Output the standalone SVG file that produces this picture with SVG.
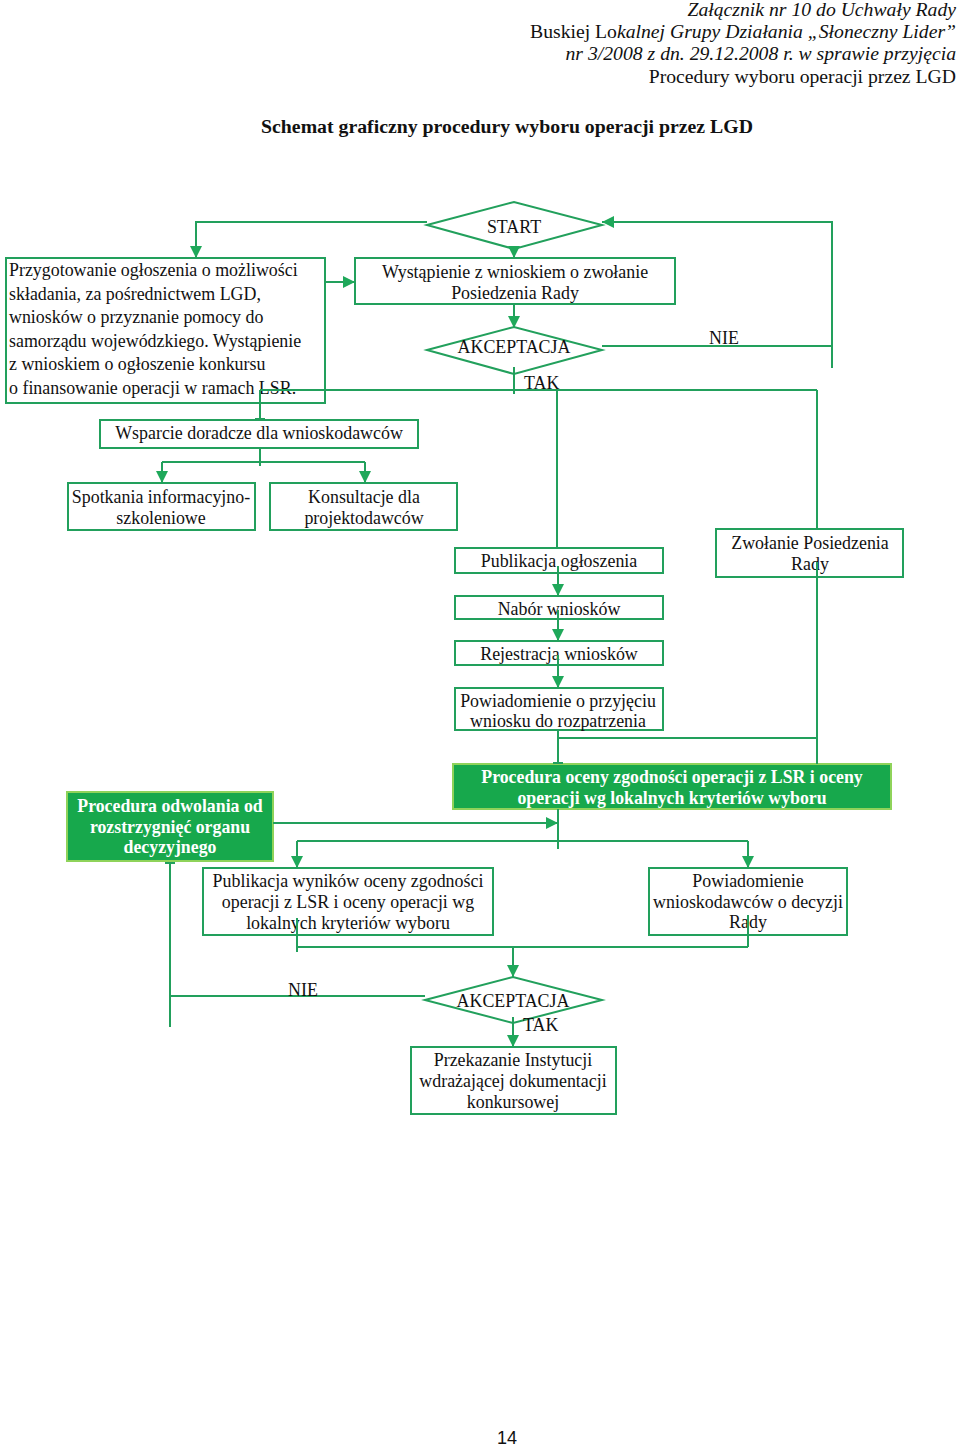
<svg xmlns="http://www.w3.org/2000/svg" width="960" height="1447" viewBox="0 0 960 1447">
<defs>
<style>
.t{font-family:"Liberation Serif","Times New Roman",serif;font-size:17.9px;fill:#111}
.c{text-anchor:middle}
.h{font-family:"Liberation Serif","Times New Roman",serif;font-size:19.7px;fill:#111;text-anchor:end}
.i{font-style:italic}
.b{fill:none;stroke:#22a05c;stroke-width:2}
.g{fill:#17a84c;stroke:#8fd35a;stroke-width:2}
.w{font-family:"Liberation Serif","Times New Roman",serif;font-size:17.8px;font-weight:bold;fill:#fff;text-anchor:middle}
.ln{fill:none;stroke:#22a05c;stroke-width:2}
</style>
<marker id="ah" markerUnits="userSpaceOnUse" markerWidth="12" markerHeight="12" viewBox="0 0 12 12" refX="12" refY="6" orient="auto">
<path d="M0,0 L12,6 L0,12 z" fill="#1fa85a"/>
</marker>
</defs>
<rect width="960" height="1447" fill="#fff"/>

<g id="header">
<text class="h i" x="956" y="16">Załącznik nr 10 do Uchwały Rady</text>
<text class="h" x="956" y="38">Buskiej Lo<tspan class="i">kalnej Grupy Działania „Słoneczny Lider”</tspan></text>
<text class="h i" x="956" y="60">nr 3/2008 z dn. 29.12.2008 r. w sprawie przyjęcia</text>
<text class="h" x="956" y="83">Procedury wyboru operacji przez LGD</text>
<text x="507" y="133" style="font-family:'Liberation Serif','Times New Roman',serif;font-size:19.8px;font-weight:bold;text-anchor:middle;fill:#111">Schemat graficzny procedury wyboru operacji przez LGD</text>
</g>

<g id="start">
<polygon class="b" points="427,225 514,202 602,225 514,249"/>
<text class="t c" x="514" y="233">START</text>
</g>

<g id="przygotowanie">
<rect class="b" x="6" y="258" width="319" height="145"/>
<text class="t" x="9" y="276">Przygotowanie ogłoszenia o możliwości</text>
<text class="t" x="9" y="300">składania, za pośrednictwem LGD,</text>
<text class="t" x="9" y="323">wniosków o przyznanie pomocy do</text>
<text class="t" x="9" y="347">samorządu wojewódzkiego. Wystąpienie</text>
<text class="t" x="9" y="370">z wnioskiem o ogłoszenie konkursu</text>
<text class="t" x="9" y="394">o finansowanie operacji w ramach LSR.</text>
</g>

<g id="wystapienie">
<rect class="b" x="355" y="258" width="320" height="46"/>
<text class="t c" x="515" y="278">Wystąpienie z wnioskiem o zwołanie</text>
<text class="t c" x="515" y="299">Posiedzenia Rady</text>
</g>

<g id="akceptacja1">
<polygon class="b" points="427,350 514,327 602,350 514,374"/>
<text class="t c" x="514" y="353">AKCEPTACJA</text>
</g>

<g id="wsparcie">
<rect class="b" x="100" y="420" width="318" height="28"/>
<text class="t c" x="259" y="439">Wsparcie doradcze dla wnioskodawców</text>
</g>

<g id="spotkania">
<rect class="b" x="68" y="483" width="187" height="47"/>
<text class="t c" x="161" y="503">Spotkania informacyjno-</text>
<text class="t c" x="161" y="524">szkoleniowe</text>
</g>

<g id="konsultacje">
<rect class="b" x="270" y="483" width="187" height="47"/>
<text class="t c" x="364" y="503">Konsultacje dla</text>
<text class="t c" x="364" y="524">projektodawców</text>
</g>

<g id="publikacja">
<rect class="b" x="455" y="548" width="208" height="25"/>
<text class="t c" x="559" y="567">Publikacja ogłoszenia</text>
</g>

<g id="zwolanie">
<rect class="b" x="716" y="529" width="187" height="48"/>
<text class="t c" x="810" y="549">Zwołanie Posiedzenia</text>
<text class="t c" x="810" y="570">Rady</text>
</g>

<g id="nabor">
<rect class="b" x="455" y="596" width="208" height="23"/>
<text class="t c" x="559" y="615">Nabór wniosków</text>
</g>

<g id="rejestracja">
<rect class="b" x="455" y="641" width="208" height="24"/>
<text class="t c" x="559" y="660">Rejestracja wniosków</text>
</g>

<g id="powiadomienie1">
<rect class="b" x="455" y="688" width="208" height="42"/>
<text class="t c" x="558" y="707">Powiadomienie o przyjęciu</text>
<text class="t c" x="558" y="727">wniosku do rozpatrzenia</text>
</g>

<g id="procedura-oceny">
<rect class="g" x="453" y="764" width="438" height="45"/>
<text class="w" x="672" y="783">Procedura oceny zgodności operacji z LSR i oceny</text>
<text class="w" x="672" y="804">operacji wg lokalnych kryteriów wyboru</text>
</g>

<g id="procedura-odwolania">
<rect class="g" x="67" y="792" width="206" height="69"/>
<text class="w" x="170" y="812">Procedura odwolania od</text>
<text class="w" x="170" y="833">rozstrzygnięć organu</text>
<text class="w" x="170" y="853">decyzyjnego</text>
</g>

<g id="publikacja-wynikow">
<rect class="b" x="203" y="868" width="290" height="67"/>
<text class="t c" x="348" y="887">Publikacja wyników oceny zgodności</text>
<text class="t c" x="348" y="908">operacji z LSR i oceny operacji wg</text>
<text class="t c" x="348" y="929">lokalnych kryteriów wyboru</text>
</g>

<g id="powiadomienie2">
<rect class="b" x="649" y="868" width="198" height="67"/>
<text class="t c" x="748" y="887">Powiadomienie</text>
<text class="t c" x="748" y="908">wnioskodawców o decyzji</text>
<text class="t c" x="748" y="928">Rady</text>
</g>

<g id="akceptacja2">
<polygon class="b" points="425,1000 513,977 602,1000 513,1023"/>
<text class="t c" x="513" y="1007">AKCEPTACJA</text>
</g>

<g id="przekazanie">
<rect class="b" x="411" y="1047" width="205" height="67"/>
<text class="t c" x="513" y="1066">Przekazanie Instytucji</text>
<text class="t c" x="513" y="1087">wdrażającej dokumentacji</text>
<text class="t c" x="513" y="1108">konkursowej</text>
</g>

<g id="connectors">
<polyline class="ln" points="427,222 196,222 196,258" marker-end="url(#ah)"/>
<line class="ln" x1="514" y1="249" x2="514" y2="258" marker-end="url(#ah)"/>
<line class="ln" x1="325" y1="282" x2="355" y2="282" marker-end="url(#ah)"/>
<line class="ln" x1="514" y1="304" x2="514" y2="328" marker-end="url(#ah)"/>
<line class="ln" x1="602" y1="346" x2="832" y2="346"/>
<polyline class="ln" points="832,368 832,222 602,222" marker-end="url(#ah)"/>
<line class="ln" x1="514" y1="367" x2="514" y2="394"/>
<line class="ln" x1="260" y1="390" x2="817" y2="390"/>
<line class="ln" x1="260" y1="390" x2="260" y2="420"/>
<line class="ln" x1="255" y1="419" x2="265" y2="419"/>
<line class="ln" x1="557" y1="390" x2="557" y2="548"/>
<line class="ln" x1="817" y1="390" x2="817" y2="529"/>
<line class="ln" x1="260" y1="448" x2="260" y2="466"/>
<line class="ln" x1="162" y1="462" x2="365" y2="462"/>
<line class="ln" x1="162" y1="462" x2="162" y2="483" marker-end="url(#ah)"/>
<line class="ln" x1="365" y1="462" x2="365" y2="483" marker-end="url(#ah)"/>
<line class="ln" x1="558" y1="566" x2="558" y2="596" marker-end="url(#ah)"/>
<line class="ln" x1="558" y1="610" x2="558" y2="641" marker-end="url(#ah)"/>
<line class="ln" x1="558" y1="655" x2="558" y2="688" marker-end="url(#ah)"/>
<line class="ln" x1="817" y1="562" x2="817" y2="764"/>
<line class="ln" x1="558" y1="730" x2="558" y2="764"/>
<line class="ln" x1="553" y1="763" x2="563" y2="763"/>
<line class="ln" x1="558" y1="738" x2="817" y2="738"/>
<line class="ln" x1="273" y1="823" x2="558" y2="823" marker-end="url(#ah)"/>
<line class="ln" x1="558" y1="809" x2="558" y2="849"/>
<line class="ln" x1="297" y1="841" x2="748" y2="841"/>
<line class="ln" x1="297" y1="841" x2="297" y2="868" marker-end="url(#ah)"/>
<line class="ln" x1="748" y1="841" x2="748" y2="868" marker-end="url(#ah)"/>
<line class="ln" x1="170" y1="862" x2="170" y2="1027"/>
<line class="ln" x1="165" y1="863" x2="175" y2="863"/>
<line class="ln" x1="170" y1="996" x2="425" y2="996"/>
<line class="ln" x1="297" y1="918" x2="297" y2="952"/>
<line class="ln" x1="297" y1="947" x2="748" y2="947"/>
<line class="ln" x1="748" y1="915" x2="748" y2="947"/>
<line class="ln" x1="513" y1="947" x2="513" y2="977" marker-end="url(#ah)"/>
<line class="ln" x1="513" y1="1017" x2="513" y2="1047" marker-end="url(#ah)"/>
</g>

<g id="labels">
<text class="t" x="709" y="344">NIE</text>
<text class="t" x="524" y="389">TAK</text>
<text class="t" x="288" y="996">NIE</text>
<text class="t" x="523" y="1031">TAK</text>
</g>

<text x="507" y="1444" style="font-family:'Liberation Sans',Arial,sans-serif;font-size:18px;text-anchor:middle;fill:#111">14</text>
</svg>
